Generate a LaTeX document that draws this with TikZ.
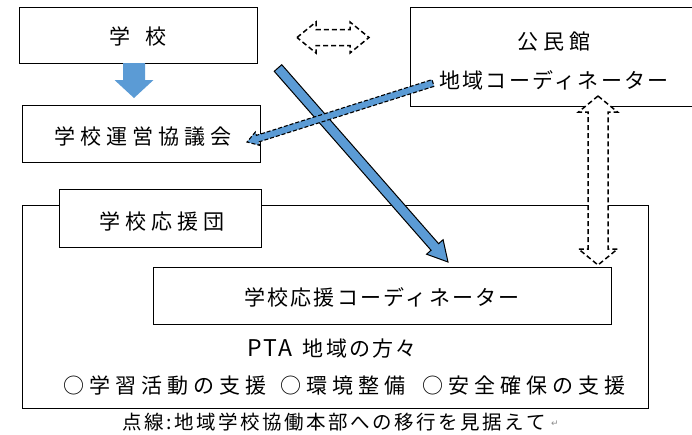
\documentclass[tikz,border=0pt]{standalone}
\usepackage{fontspec}
\setmainfont{Noto Sans CJK JP}
\newfontfamily\jpA[LetterSpace=24]{Noto Sans CJK JP}
\newfontfamily\jpB[LetterSpace=11]{Noto Sans CJK JP}
\newfontfamily\jpcap[LetterSpace=13]{Noto Sans CJK JP}
\newfontfamily\dv{DejaVu Sans}
\usetikzlibrary{calc}
\definecolor{offblue}{HTML}{5B9BD5}

% single block arrow: style, from, to, shaft half width, head half width, head length
\newcommand\blockarrow[6]{%
  \coordinate (ba-h) at ($(#3)!#6!(#2)$);
  \draw[#1] ($(#2)!#4!90:(#3)$) -- ($(ba-h)!#4!90:(#3)$) -- ($(ba-h)!#5!90:(#3)$)
    -- (#3) -- ($(ba-h)!#5!-90:(#3)$) -- ($(ba-h)!#4!-90:(#3)$)
    -- ($(#2)!#4!-90:(#3)$) -- cycle;}
% double block arrow: style, end A, end B, shaft half width, head half width, head length
\newcommand\dblarrow[6]{%
  \coordinate (da-a) at ($(#2)!#6!(#3)$);
  \coordinate (da-b) at ($(#3)!#6!(#2)$);
  \draw[#1] (#2) -- ($(da-a)!#5!90:(#3)$) -- ($(da-a)!#4!90:(#3)$)
    -- ($(da-b)!#4!90:(#3)$) -- ($(da-b)!#5!90:(#3)$) -- (#3)
    -- ($(da-b)!#5!-90:(#3)$) -- ($(da-b)!#4!-90:(#3)$)
    -- ($(da-a)!#4!-90:(#3)$) -- ($(da-a)!#5!-90:(#3)$) -- cycle;}

\begin{document}
\begin{tikzpicture}[x=1pt,y=-1pt,
  box/.style={draw=black, line width=0.8pt, fill=white, inner sep=0pt},
  txtA/.style={font={\jpA\fontsize{21}{23}\selectfont}, inner sep=0pt, text=black},
  txtB/.style={font={\jpB\fontsize{21}{23}\selectfont}, inner sep=0pt, text=black},
  captxt/.style={font={\jpcap\fontsize{19.5}{22}\selectfont}, inner sep=0pt, text=black},
  bluearrow/.style={fill=offblue, draw=black, line width=1pt, line join=miter},
  bluedash/.style={fill=offblue, draw=black, line width=1.1pt, dash pattern=on 4pt off 2pt, line join=miter},
  solidblue/.style={fill=offblue, draw=none},
  whitedash/.style={fill=white, draw=black, line width=1.5pt, dash pattern=on 5pt off 3pt, line join=miter}]
\useasboundingbox (0,0) rectangle (692,434);

% boxes
\node[box, minimum width=238pt, minimum height=56pt] (gakko) at (138,35) {};
\node[txtA] (gakkoT) at (138,36) {学\hspace{16pt}校};
\node[box, minimum width=238pt, minimum height=57pt] (kyogi) at (141,133.5) {};
\node[txtA] (kyogiT) at (143,137) {学校運営協議会};
\node[box, minimum width=290pt, minimum height=99pt] (kominkan) at (555,56.5) {};
\node[txtA] (kominkanT) at (554,42) {公民館};
\node[txtB] (chiikiT) at (554,80) {地域コーディネーター};

\node[box, minimum width=626pt, minimum height=203pt] (outer) at (335,306.5) {};
\node[box, minimum width=202pt, minimum height=58pt] (oendan) at (160,218) {};
\node[txtA] (oendanT) at (162,221) {学校応援団};
\node[box, minimum width=458pt, minimum height=57pt] (coord) at (382,295.5) {};
\node[txtB] (coordT) at (382,297) {学校応援コーディネーター};
\node[txtB] (ptaT) at (332,349) {{\fontsize{23}{23}\selectfont PTA}\hspace{10pt}地域の方々};
\node[txtA] (shien1) at (165,386) {○学習活動の支援};
\node[txtA] (shien2) at (343,386) {○環境整備};
\node[txtA] (shien3) at (524,386) {○安全確保の支援};
\node[captxt] (capT) at (334,422) {点線:地域学校協働本部への移行を見据えて};
\node[font={\dv\fontsize{9}{9}\selectfont}, text=black!45, inner sep=0pt] (ret) at (555,424) {↵};

% arrow end points
\coordinate (downA) at (134,63);
\coordinate (downB) at (134,98);
\coordinate (diagA) at (278,68);
\coordinate (diagB) at (448,262);
\coordinate (dashA) at (433,83);
\coordinate (dashB) at (247,142);
\coordinate (hA) at (297,37.5);
\coordinate (hB) at (369,37.5);
\coordinate (vA) at (598,96);
\coordinate (vB) at (598,265);

\blockarrow{solidblue}{downA}{downB}{11pt}{19.5pt}{18pt}
\blockarrow{bluearrow}{diagA}{diagB}{5pt}{11pt}{20pt}
\blockarrow{bluedash}{dashA}{dashB}{3.5pt}{7pt}{11pt}
\dblarrow{whitedash}{hA}{hB}{8pt}{15.5pt}{19pt}
\dblarrow{whitedash}{vA}{vB}{10pt}{19.5pt}{16pt}
\end{tikzpicture}
\end{document}
